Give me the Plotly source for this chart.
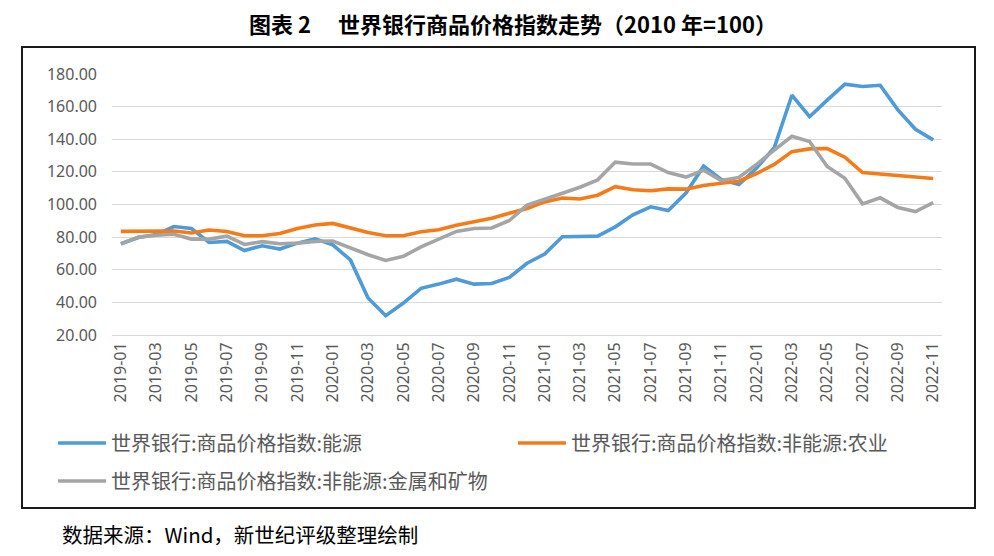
import plotly.graph_objects as go

months = ["2019-01","2019-02","2019-03","2019-04","2019-05","2019-06","2019-07","2019-08","2019-09","2019-10","2019-11","2019-12",
          "2020-01","2020-02","2020-03","2020-04","2020-05","2020-06","2020-07","2020-08","2020-09","2020-10","2020-11","2020-12",
          "2021-01","2021-02","2021-03","2021-04","2021-05","2021-06","2021-07","2021-08","2021-09","2021-10","2021-11","2021-12",
          "2022-01","2022-02","2022-03","2022-04","2022-05","2022-06","2022-07","2022-08","2022-09","2022-10","2022-11"]

energy = [75.9, 79.8, 81.6, 86.5, 85.3, 76.7, 77.4, 71.8, 74.7, 72.7, 76.3, 79.0,
          75.3, 66.0, 42.7, 31.8, 39.6, 48.6, 51.2, 54.2, 51.2, 51.6, 55.3, 64.0,
          69.6, 80.2, 80.4, 80.6, 86.3, 93.7, 98.6, 96.3, 107.0, 123.5, 115.3, 112.2,
          122.3, 134.8, 167.0, 153.8, 164.0, 173.8, 172.3, 173.1, 158.0, 146.1, 139.6]

agri = [83.5, 83.5, 83.3, 83.8, 82.5, 84.4, 83.4, 80.8, 80.8, 82.2, 85.3, 87.4,
        88.4, 85.5, 82.8, 80.8, 80.8, 83.3, 84.5, 87.3, 89.6, 91.6, 94.7, 97.6,
        101.6, 104.0, 103.4, 105.7, 110.9, 109.0, 108.4, 109.6, 109.4, 111.6, 113.0, 114.3,
        119.0, 124.6, 132.4, 134.1, 134.3, 129.0, 119.6, 118.6, 117.6, 116.5, 115.9]

metals = [75.9, 80.0, 81.2, 81.8, 78.8, 78.8, 80.6, 75.5, 77.2, 75.9, 76.3, 77.4,
          77.6, 73.3, 69.2, 65.7, 68.2, 74.0, 79.0, 83.5, 85.3, 85.6, 90.2, 99.6,
          103.2, 107.0, 110.6, 115.1, 126.0, 124.8, 124.8, 119.6, 116.8, 121.0, 114.7, 116.6,
          124.6, 133.3, 141.8, 138.6, 123.3, 116.1, 100.4, 104.1, 98.2, 95.7, 101.2]

names = ["世界银行:商品价格指数:能源", "世界银行:商品价格指数:非能源:农业", "世界银行:商品价格指数:非能源:金属和矿物"]
colors = ["#4E9BD8", "#F57B19", "#A5A5A5"]
yticks = [20, 40, 60, 80, 100, 120, 140, 160, 180]

idx = list(range(len(months)))
label_idx = idx[::2]
boundaries = [i - 0.5 for i in idx[::2]]

font_cjk = "Noto Sans CJK SC"

# plot area (page px): left 112, right 942, top 74, bottom 335; page body has 8px margin
PL, PW, PB, PH = 112, 830, 335, 261
def px(xp):
    return (xp - PL) / PW
def py(yp):
    return (PB - yp) / PH

fig = go.Figure()
for vals, name, col, lg in zip([energy, agri, metals], names, colors, ["legend", "legend2", "legend3"]):
    fig.add_trace(go.Scatter(x=idx, y=vals, name=name, mode="lines",
                             line=dict(color=col, width=3.6), legend=lg))

leg_common = dict(orientation="h", xanchor="left", yanchor="middle", itemwidth=48,
                  font=dict(family=font_cjk, size=20, color="#595959"), bgcolor="rgba(0,0,0,0)")

fig.update_layout(
    width=986, height=548,
    paper_bgcolor="white", plot_bgcolor="white",
    margin=dict(l=104, r=52, t=66, b=221),
    showlegend=True,
    title=dict(text="<b>图表 2　 世界银行商品价格指数走势（2010 年=100）</b>",
               x=505 / 986, xanchor="center", xref="container", y=1 - 17 / 548, yanchor="middle",
               font=dict(family=font_cjk, size=22, color="#000000")),
    xaxis=dict(range=[-0.5, len(months) - 0.5], tickmode="array", tickvals=label_idx,
               ticktext=[months[i] for i in label_idx], tickangle=-90,
               showgrid=False, zeroline=False, showline=True, linecolor="#D9D9D9", linewidth=1,
               ticks="", tickfont=dict(family="Noto Sans", size=16, color="#595959")),
    xaxis2=dict(range=[-0.5, len(months) - 0.5], overlaying="x", anchor="y", side="bottom",
                tickmode="array", tickvals=boundaries, showticklabels=False,
                ticks="outside", ticklen=6, tickcolor="#D9D9D9", showgrid=False, zeroline=False),
    yaxis=dict(range=[20, 180], tickmode="array", tickvals=yticks,
               ticktext=[f"{v:.2f}" for v in yticks],
               showgrid=True, gridcolor="#D9D9D9", gridwidth=1, zeroline=False, showline=False,
               ticks="", ticklabelstandoff=14,
               tickfont=dict(family="Noto Sans", size=16, color="#595959")),
    legend=dict(x=px(53), y=py(443), **leg_common),
    legend2=dict(x=px(513), y=py(443), **leg_common),
    legend3=dict(x=px(53), y=py(481), **leg_common),
)

# chart frame
fig.add_shape(type="rect", xref="paper", yref="paper", x0=px(22), x1=px(975), y0=py(508), y1=py(47),
              line=dict(color="#1A1A1A", width=2), fillcolor="rgba(0,0,0,0)", layer="below")

fig.add_annotation(text="数据来源：Wind，新世纪评级整理绘制", xref="paper", yref="paper",
                   x=px(60), y=py(534), xanchor="left", yanchor="middle",
                   showarrow=False, font=dict(family=font_cjk, size=20.5, color="#000000"))

fig.write_html("out.html")
